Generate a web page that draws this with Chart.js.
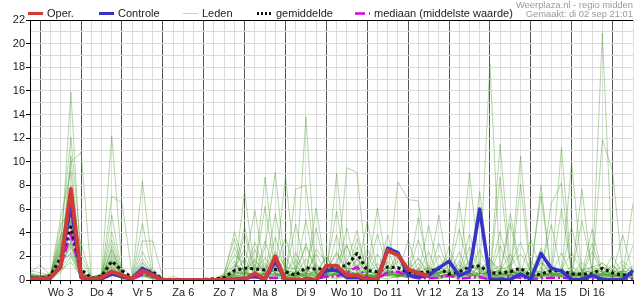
<!DOCTYPE html>
<html>
<head>
<meta charset="utf-8">
<script src="https://cdn.jsdelivr.net/npm/chart.js@4.4.1/dist/chart.umd.min.js"></script>
<style>
  html, body { margin: 0; padding: 0; background: #fff; }
  canvas { display: block; }
</style>
</head>
<body>
<canvas id="grafiek" width="635" height="300"></canvas>
<script>
// Daglabels op de x-as (midden van elke dag)
var dagLabels = ['Wo 3', 'Do 4', 'Vr 5', 'Za 6', 'Zo 7', 'Ma 8', 'Di 9', 'Wo 10', 'Do 11', 'Vr 12', 'Za 13', 'Zo 14', 'Ma 15', 'Di 16'];

// Tijdstappen van 6 uur, vanaf di 2 sep 18u t/m wo 17 sep 12u (60 stappen)
var tijdstappen = ['di 2 18u'];
var dagNamen = ['wo 3', 'do 4', 'vr 5', 'za 6', 'zo 7', 'ma 8', 'di 9', 'wo 10', 'do 11', 'vr 12', 'za 13', 'zo 14', 'ma 15', 'di 16', 'wo 17'];
var uren = ['00u', '06u', '12u', '18u'];

// Y-as bereik (neerslag in mm per 6 uur)
var yMin = 0;
var yMax = 22;

// Operationele run (loopt tot vr 12)
var oper = [0.1,
  0.1, 0.2, 1.1, 7.7,   0.3, 0.05, 0.2, 0.7,   0.4, 0.1, 0.8, 0.4,   0, 0, 0, 0,
  0, 0, 0, 0.05,        0.05, 0.55, 0.05, 2.0, 0, 0, 0, 0,         1.2, 1.2, 0.4, 0.4,
  0.05, 0.05, 2.5, 2.1, 0.9, 0.6, 0.3];

// Controlerun
var controle = [0.15,
  0.1, 0.15, 1.2, 6.4,  0.2, 0.05, 0.1, 0.5,   0.3, 0.1, 1.0, 0.5,   0, 0, 0, 0,
  0, 0, 0, 0.05,        0.1, 0.35, 0.05, 1.6,  0, 0, 0, 0,           0.8, 0.85, 0.2, 0.2,
  0.05, 0.05, 2.7, 2.3, 0.4, 0.25, 0.4, 1.0,   1.6, 0.35, 0.75, 6.0, 0.1, 0.05, 0.05, 0.5,
  0.05, 2.25, 1.0, 0.75, 0.05, 0.05, 0.4, 0.05, 0, 0, 0.8];

// Gemiddelde van de leden
var gemiddelde = [0.2,
  0.15, 0.35, 1.9, 4.5, 0.9, 0.15, 0.3, 1.6,   0.8, 0.2, 0.8, 0.7,    0.05, 0.02, 0.02, 0.02,
  0.05, 0.1, 0.2, 0.8,  1.0, 0.95, 0.85, 0.9,  0.7, 0.4, 1.05, 0.9,   1.0, 1.15, 1.2, 2.25,
  0.8, 0.7, 1.1, 1.05,  0.6, 0.6, 0.7, 1.0,    0.5, 0.7, 1.1, 1.2,    0.6, 0.6, 0.7, 1.0,
  0.35, 0.5, 0.8, 0.8,  0.5, 0.5, 0.5, 1.0,    0.6, 0.4, 0.55];

// Mediaan (middelste waarde)
var mediaan = [0.1,
  0.05, 0.2, 1.2, 3.9,  0.4, 0.05, 0.15, 0.6,  0.3, 0.05, 0.5, 0.3,   0, 0, 0, 0,
  0, 0, 0.05, 0.15,     0.2, 0.25, 0.1, 0.2,   0.1, 0.1, 0.15, 0.1,   0.3, 0.3, 0.6, 1.1,
  0.2, 0.1, 0.65, 0.7,  0.3, 0.15, 0.15, 0.2,  0.4, 0.1, 0.2, 0.25,   0.05, 0.05, 0.3, 0.2,
  0.1, 0.15, 0.2, 0.2,  0.1, 0.1, 0.1, 0.1,    0.05, 0.1, 0.1];

// Ensembleleden (per rij: 1 waarde, 14 dagen van 4 waarden, 3 waarden)
var leden = [
  [0.2, 0.1,0.3,2.1,15.9, 0.8,0.1,0.2,1.4, 0.6,0.1,0.9,0.3, 0,0.3,0,0, 0,0,0.1,0.6, 1.8,0.4,0.2,0.9, 0.3,0.1,13.8,0.2, 0.8,2.4,0.6,0.3, 0.1,0.4,1.1,0.5, 0.2,0.9,0.3,0.1, 0.4,1.6,0.5,0.2, 0.3,0.8,2.2,0.4, 0.1,0.6,0.3,0.9, 0.2,0.1,0.7,0.4, 1.3,0.2,0.5],
  [0.5, 0.3,0.2,3.4,12.1, 2.2,0.3,0.4,0.9, 0.2,0,0.5,0.1, 0,0,0,0, 0,0,0.3,1.2, 0.8,0.2,2.8,9.1, 0.6,0.2,0.1,0.3, 1.2,0.5,0.3,1.8, 0.4,0.2,0.6,0.3, 0.9,0.3,1.2,0.4, 0.2,0.5,0.3,1.1, 0.6,0.2,0.4,0.8, 0.3,1.5,0.4,0.2, 0.6,0.3,0.2,1.1, 0.4,0.8,0.3],
  [0.1, 0.2,0.1,1.8,10.5, 0.4,0.1,0.6,12.2, 1.1,0.2,0.3,0.6, 0,0,0,0, 0,0,0,0.3, 7.5,0.6,0.4,0.2, 0.1,0.3,0.8,0.4, 0.2,0.6,1.1,0.3, 0.5,0.2,0.4,2.5, 0.8,0.3,0.2,0.5, 1.3,0.4,0.6,0.2, 0.3,0.5,1.0,0.2, 0.4,0.2,0.9,0.3, 0.2,0.5,0.3,0.1, 0.6,0.3,0.2],
  [0.8, 0.6,0.4,5.3,9.2, 0.2,0,0.1,0.5, 0.1,0.1,8.4,1.0, 0.1,0,0,0, 0,0,0.2,0.4, 0.3,0.6,8.7,1.4, 0.5,0.3,0.2,0.9, 0.4,1.3,0.5,0.2, 0.1,0.3,0.7,0.4, 0.3,0.2,0.6,1.2, 0.4,0.3,9.1,0.8, 0.5,0.9,0.2,0.3, 1.1,0.4,0.3,0.6, 0.2,0.7,0.4,0.3, 0.5,0.2,0.4],
  [0.2, 0.1,0.2,1.2,10.0, 10.8,0.3,0.2,2.6, 0.5,0.1,0.4,0.2, 0,0,0,0, 0,0,0.1,0.2, 0.6,0.3,0.5,0.8, 8.75,0.6,0.3,0.2, 0.8,0.5,9.5,9.1, 0.3,0.2,0.5,0.4, 0.2,1.0,0.3,0.6, 0.3,0.2,0.4,1.2, 0.6,0.3,0.8,0.4, 0.2,0.5,0.3,0.9, 0.4,0.2,0.6,0.3, 0.2,0.4,0.6],
  [0.4, 0.2,0.5,2.8,7.4, 0.6,0.2,0.3,7.1, 6.5,0.4,0.3,0.2, 0,0,0,0, 0,0,0.4,1.6, 0.3,0.2,0.6,0.4, 0.2,7.7,8.0,0.6, 0.3,0.4,0.2,0.9, 0.5,1.4,0.3,0.2, 0.6,0.3,0.5,0.4, 0.2,0.8,0.3,0.6, 0.4,0.2,0.5,10.5, 0.6,0.3,0.2,0.4, 0.8,0.3,0.5,0.2, 0.3,0.6,0.4],
  [0.1, 0.2,0.3,4.6,6.1, 0.3,0.1,0.2,5.5, 0.6,0.2,4.8,0.4, 0,0,0,0, 0,0,0.2,0.3, 0.5,0.4,0.3,0.2, 0.6,0.3,0.4,6.1, 0.5,0.2,0.3,0.4, 1.0,0.3,0.4,8.3, 6.8,6.7,0.4,0.2, 0.3,0.5,0.6,0.3, 0.4,0.2,0.7,0.5, 0.3,0.4,0.6,11.2, 0.5,0.3,0.2,0.4, 0.3,0.2,0.5],
  [0.3, 0.4,0.2,1.5,3.2, 0.4,0.1,0.5,3.4, 0.3,0.1,3.3,3.3, 0.2,0,0,0, 0,0,0.1,0.5, 1.0,0.3,0.4,0.6, 0.3,0.5,0.2,0.3, 0.4,9.0,0.6,0.3, 0.2,0.5,0.8,0.3, 0.4,0.2,0.3,0.7, 0.6,6.6,0.5,7.5, 0.3,8.7,0.4,0.2, 0.5,0.3,0.6,0.4, 9.9,0.5,0.3,0.8, 0.4,0.3,0.2],
  [0.6, 1.3,0.4,2.3,5.1, 0.5,0.2,0.3,1.8, 0.2,0.1,1.2,0.3, 0,0,0,0, 0,0,0,0.2, 0.3,0.5,0.2,0.4, 0.3,0.2,0.6,0.4, 0.3,0.5,0.2,0.6, 0.4,0.3,0.5,0.4, 0.2,0.6,0.4,0.3, 0.5,0.3,0.8,0.4, 18.3,0.6,0.3,8.1, 0.4,0.2,0.5,0.3, 0.6,0.4,0.3,20.9, 1.2,0.5,0.3],
  [0.2, 0.1,0.2,0.9,2.4, 0.3,0.1,0.2,0.8, 0.1,0.1,0.6,0.2, 0,0,0,0, 0,0,0.5,2.1, 1.4,0.6,1.9,0.5, 0.4,1.2,0.3,2.6, 1.5,0.4,0.6,1.8, 0.5,2.2,0.4,0.3, 1.6,0.5,0.8,0.3, 2.8,0.6,0.4,1.5, 0.5,11.5,1.1,0.4, 0.6,1.7,0.5,0.3, 1.2,0.4,2.4,0.6, 0.3,0.8,0.5],
  [0.3, 0.2,0.4,3.9,4.4, 1.6,0.2,0.3,2.2, 0.4,0.2,1.8,0.5, 0,0,0.1,0, 0,0,0.6,3.5, 0.5,1.3,0.4,2.0, 0.6,0.3,3.1,0.5, 0.4,1.6,2.9,0.7, 0.3,0.5,1.2,0.4, 3.4,0.6,0.5,2.1, 0.4,0.3,2.8,0.6, 0.5,0.4,1.3,3.2, 0.6,0.3,6.5,8.2, 0.4,1.5,0.6,0.5, 2.1,0.4,6.5],
  [0.1, 0.3,0.1,1.1,3.0, 0.2,0,0.4,1.5, 0.3,0.1,0.9,0.4, 0,0,0,0, 0,0,0,1.0, 2.6,0.4,0.8,0.3, 1.9,0.5,0.6,1.4, 0.3,3.8,0.5,0.4, 2.1,0.6,0.3,1.9, 0.5,0.3,0.6,5.5, 0.4,2.4,0.3,0.5, 1.8,0.6,0.4,0.3, 0.5,2.7,0.4,0.6, 0.3,7.7,0.5,0.4, 0.6,1.3,0.4],
  [0.4, 0.2,0.3,2.0,6.8, 0.5,0.1,0.2,2.9, 0.2,0,0.7,0.3, 0,0,0,0, 0,0.1,0.3,0.5, 3.9,0.5,1.2,0.6, 0.4,2.3,0.5,0.3, 0.6,0.4,1.5,4.2, 0.5,0.3,2.6,0.4, 0.7,1.9,0.4,0.3, 0.5,0.4,1.7,0.6, 0.3,2.9,0.5,0.4, 1.6,0.3,0.5,2.3, 0.4,0.6,0.3,11.9, 9.2,0.5,0.3],
  [0.2, 0.1,0.2,1.6,5.6, 0.4,0.1,0.3,4.1, 0.5,0.1,2.4,0.6, 0,0,0,0, 0,0,0.2,0.7, 0.5,1.8,0.4,0.9, 0.6,0.4,1.8,0.5, 0.3,0.7,0.4,0.5, 1.3,0.4,0.6,0.5, 0.4,0.8,0.3,1.1, 0.6,0.5,0.4,0.3, 0.7,1.2,0.5,0.4, 0.3,0.6,0.9,0.4, 0.5,0.3,1.2,0.6, 0.4,0.3,0.2],
  [0.5, 0.3,0.6,2.6,8.0, 0.9,0.2,0.4,1.1, 0.3,0.1,0.5,0.2, 0,0,0,0, 0,0,0.1,0.4, 0.8,0.3,0.5,0.6, 0.2,0.7,0.3,0.5, 2.1,0.3,0.6,0.4, 0.2,0.9,0.5,0.3, 0.5,0.3,0.7,0.4, 0.3,0.6,0.5,2.6, 0.4,0.3,0.5,0.7, 0.4,8.0,0.3,0.6, 0.5,0.4,0.3,0.6, 0.3,0.5,0.4],
  [0.1, 0.1,0.1,0.6,2.0, 0.2,0,0.1,0.6, 0.1,0,0.3,0.1, 0,0,0,0, 0,0,0,0.1, 0.2,0.1,0.3,0.2, 0.1,0.2,0.4,0.1, 0.2,0.1,0.3,0.2, 0.1,0.2,0.1,0.3, 0.2,0.1,0.2,0.1, 0.3,0.1,0.2,0.1, 0.1,0.2,0.3,0.1, 0.2,0.1,0.2,0.3, 0.1,0.2,0.1,0.2, 0.1,0.2,0.1],
  [0.3, 0.2,0.3,3.1,3.6, 0.6,0.1,0.2,2.0, 0.3,0.1,1.0,0.8, 0,0,0,0, 0,0,0.3,0.9, 0.6,0.4,3.3,0.5, 0.3,0.6,0.4,0.8, 0.4,0.5,3.0,0.6, 0.3,0.4,0.6,1.6, 0.4,0.3,0.5,0.6, 0.4,0.7,0.3,0.5, 0.6,0.4,0.9,0.3, 0.5,0.4,0.6,0.3, 0.4,0.5,0.3,0.4, 0.2,0.4,0.5],
  [0.2, 0.2,0.1,1.3,2.8, 0.3,0.1,0.2,1.0, 0.2,0.1,0.8,0.2, 0,0,0,0, 0,0,0,0.3, 0.4,2.6,0.3,0.5, 0.2,0.4,0.6,0.3, 0.5,1.2,0.4,0.3, 0.6,0.2,0.4,0.5, 0.3,0.4,0.2,0.6, 0.4,0.3,0.6,0.4, 0.3,0.5,0.4,0.2, 0.4,0.3,0.5,0.4, 0.3,0.6,0.4,0.5, 0.3,0.4,0.2],
  [0.6, 0.4,0.3,2.4,4.9, 3.1,0.2,0.5,1.7, 0.4,0.2,1.5,0.6, 0,0,0,0, 0,0,0.2,0.6, 0.5,0.4,0.6,3.6, 0.7,0.5,0.3,0.6, 0.4,0.6,0.5,2.8, 0.3,0.5,0.4,0.3, 0.5,3.4,0.6,0.4, 0.3,0.5,0.4,0.6, 0.5,0.3,0.7,0.4, 0.3,0.6,0.4,0.5, 0.3,0.4,3.1,0.5, 0.4,0.3,0.6],
  [0.3, 0.2,0.2,1.9,3.9, 0.4,0.1,0.3,1.3, 0.2,0.1,0.7,0.3, 0,0,0,0, 0,0,0.1,0.4, 0.7,0.3,0.5,0.4, 0.3,0.4,0.5,2.2, 0.6,0.4,0.7,0.5, 0.4,0.3,0.6,0.4, 0.5,0.6,2.4,0.3, 0.5,0.4,0.5,0.3, 0.6,0.5,0.4,0.5, 0.3,0.4,0.5,0.6, 0.4,0.3,0.5,0.4, 0.5,0.3,0.4],
  [0.4, 0.3,0.2,1.4,4.2, 0.7,0.1,0.3,1.6, 0.3,0.1,1.1,0.4, 0,0,0,0, 0,0,0.4,4.1, 1.2,5.9,0.6,0.9, 0.5,4.7,0.8,0.6, 0.7,0.5,4.4,0.9, 0.6,3.9,0.8,0.5, 0.7,0.6,4.6,0.8, 0.5,0.9,0.6,5.2, 0.8,0.6,4.8,0.5, 0.9,0.7,0.5,6.0, 0.7,0.5,4.3,0.6, 0.8,0.5,1.2],
  [0.2, 0.1,0.3,2.7,5.0, 0.3,0.1,0.2,1.2, 0.2,0.1,0.6,0.2, 0,0,0,0, 0,0,0.3,0.8, 4.5,0.7,0.5,5.6, 0.8,0.6,5.1,0.5, 0.9,5.8,0.7,0.6, 4.9,0.8,0.6,0.7, 0.5,5.3,0.8,0.6, 0.7,4.3,0.9,0.5, 0.8,0.6,5.6,0.9, 0.6,0.8,4.7,0.6, 0.5,5.0,0.9,0.7, 0.6,3.8,0.5],
  [0.3, 0.2,0.4,1.7,2.2, 0.2,0.1,0.4,0.9, 0.1,0,0.4,0.1, 0,0,0,0, 0,0,0.2,2.8, 0.6,3.2,0.7,1.1, 3.6,0.7,0.9,4.4, 0.6,0.8,0.5,3.5, 0.7,0.5,3.8,0.9, 0.6,0.8,0.5,3.1, 0.7,0.6,3.9,0.8, 0.5,4.1,0.7,0.6, 3.4,0.9,0.6,0.7, 4.5,0.6,0.8,0.5, 0.7,0.6,2.9],
  [0.1, 0.2,0.2,0.8,1.5, 0.3,0,0.2,0.7, 0.1,0.1,0.5,0.2, 0,0,0,0, 0,0,0,0.5, 1.1,0.8,6.2,0.7, 0.9,0.6,0.8,1.2, 0.7,0.9,0.6,1.3, 0.8,6.1,0.7,0.6, 0.9,0.7,1.0,0.6, 0.8,0.7,1.1,0.9, 0.6,0.8,0.7,1.0, 0.9,7.1,0.6,0.8, 0.7,0.9,0.6,1.1, 0.8,0.7,0.9],
  [0.4, 0.3,0.5,3.6,4.7, 0.5,0.2,0.3,2.5, 0.3,0.2,1.4,0.5, 0,0,0,0, 0,0,0.2,1.3, 0.9,1.6,0.8,2.4, 1.1,0.9,2.8,1.0, 0.8,2.2,1.0,0.9, 2.6,1.0,0.8,2.1, 0.9,1.8,0.7,1.2, 2.0,0.8,1.5,0.9, 1.7,0.9,1.2,2.2, 0.8,1.4,1.0,0.9, 2.3,0.8,1.1,1.4, 0.9,1.6,0.8],
  [0.2, 0.1,0.2,1.0,3.3, 0.4,0.1,0.2,1.1, 0.2,0.1,0.5,0.3, 0,0,0,0, 0,0,0.1,0.7, 0.5,0.6,1.4,0.5, 0.6,1.7,0.5,0.7, 1.9,0.6,0.8,0.5, 0.7,0.5,1.6,0.6, 0.5,1.4,0.6,0.8, 0.6,1.3,0.5,0.7, 1.5,0.5,0.6,0.8, 0.5,0.7,1.3,0.6, 0.5,0.8,0.6,1.5, 0.6,0.5,0.7]
];

// Kleuren
var kleurOper = '#d23a3a';
var kleurControle = '#3434cc';
var kleurGemiddelde = '#111111';
var kleurMediaan = '#dd00ee';
var kleurLeden = 'rgba(60, 150, 30, 0.38)';

// Categorieën opbouwen uit dagnamen en uren
for (var d = 0; d < dagNamen.length; d++) {
    for (var u = 0; u < uren.length; u++) {
        if (tijdstappen.length < 60) tijdstappen.push(dagNamen[d] + ' ' + uren[u]);
    }
}

// Datasets: eerste dataset wordt bovenop getekend
var datasets = [
    { label: 'Oper.', data: oper, borderColor: kleurOper, borderWidth: 4 },
    { label: 'Controle', data: controle, borderColor: kleurControle, borderWidth: 3.5 },
    { label: 'gemiddelde', data: gemiddelde, borderColor: kleurGemiddelde, borderWidth: 3, borderDash: [3, 3] },
    { label: 'mediaan (middelste waarde)', data: mediaan, borderColor: kleurMediaan, borderWidth: 2.5, borderDash: [9, 3, 2, 3] }
];
leden.forEach(function(rij, i) {
    datasets.push({ label: 'Lid ' + (i + 1), data: rij, borderColor: kleurLeden, borderWidth: 1 });
});

// Legenda en kopteksten bovenaan tekenen
var legendaPlugin = {
    id: 'legenda',
    afterDraw: function(chart) {
        var ctx = chart.ctx;
        var items = [
            { tekst: 'Oper.', x: 28, kleur: kleurOper, dikte: 3, streep: [] },
            { tekst: 'Controle', x: 99, kleur: kleurControle, dikte: 3, streep: [] },
            { tekst: 'Leden', x: 183, kleur: '#bcdcae', dikte: 1, streep: [] },
            { tekst: 'gemiddelde', x: 257, kleur: kleurGemiddelde, dikte: 3, streep: [2, 2] },
            { tekst: 'mediaan (middelste waarde)', x: 355, kleur: kleurMediaan, dikte: 2.5, streep: [10, 4, 2, 4] }
        ];
        var y = 13.5;
        ctx.save();
        items.forEach(function(item) {
            ctx.beginPath();
            ctx.setLineDash(item.streep);
            ctx.strokeStyle = item.kleur;
            ctx.lineWidth = item.dikte;
            ctx.moveTo(item.x, y);
            ctx.lineTo(item.x + 15, y);
            ctx.stroke();
            ctx.setLineDash([]);
            ctx.fillStyle = '#222';
            ctx.font = '11px "Liberation Sans", Arial, sans-serif';
            ctx.textAlign = 'left';
            ctx.textBaseline = 'middle';
            ctx.fillText(item.tekst, item.x + 19, y);
        });
        ctx.fillStyle = '#9a9a9a';
        ctx.font = '9.4px "Liberation Sans", Arial, sans-serif';
        ctx.textAlign = 'right';
        ctx.textBaseline = 'alphabetic';
        ctx.fillText('Weerplaza.nl - regio midden', 633, 8);
        ctx.fillText('Gemaakt: di 02 sep 21:01', 633, 17);
        ctx.restore();
    }
};

Chart.defaults.font.family = '"Liberation Sans", Arial, sans-serif';
Chart.defaults.font.size = 11;
Chart.defaults.color = '#222';

var grafiek = new Chart(document.getElementById('grafiek').getContext('2d'), {
    type: 'line',
    data: { labels: tijdstappen, datasets: datasets },
    options: {
        responsive: false,
        animation: false,
        events: [],
        layout: { padding: { top: 20, right: 0, left: 0, bottom: 0 } },
        elements: {
            point: { radius: 0 },
            line: { tension: 0, fill: false, borderCapStyle: 'butt', borderJoinStyle: 'round' }
        },
        plugins: {
            legend: { display: false },
            tooltip: { enabled: false }
        },
        scales: {
            x: {
                type: 'category',
                offset: false,
                border: { display: true, color: '#000', width: 1 },
                grid: {
                    color: function(c) {
                        if (c.index === 0) return '#000';
                        return (c.index - 1) % 4 === 0 ? '#555' : '#dcdcdc';
                    },
                    lineWidth: 1,
                    tickColor: '#000',
                    tickLength: 4
                },
                ticks: {
                    autoSkip: false,
                    maxRotation: 0,
                    minRotation: 0,
                    padding: 2,
                    callback: function(v, i) {
                        return (i - 3) % 4 === 0 ? (dagLabels[(i - 3) / 4] || '') : '';
                    }
                },
                afterFit: function(s) { s.height = 20; }
            },
            y: {
                min: yMin,
                max: yMax,
                border: { display: true, color: '#000', width: 1 },
                grid: {
                    color: function(c) { return c.tick.value === yMax ? '#000' : '#dcdcdc'; },
                    tickColor: function(c) { return c.tick.value % 2 === 0 ? '#000' : 'rgba(0,0,0,0)'; },
                    tickLength: 4
                },
                ticks: {
                    stepSize: 1,
                    maxTicksLimit: 30,
                    autoSkip: false,
                    padding: 1,
                    callback: function(v) { return v % 2 === 0 ? v : ''; }
                },
                afterFit: function(s) { s.width = 30; }
            }
        }
    },
    plugins: [legendaPlugin]
});
</script>
</body>
</html>
